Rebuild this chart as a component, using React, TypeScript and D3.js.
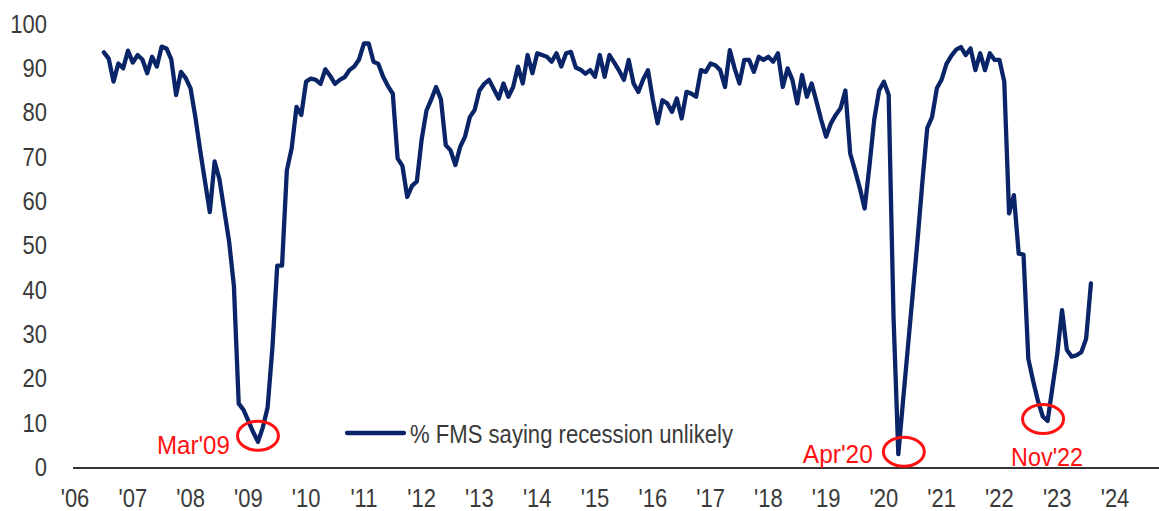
import React from "react";
import * as d3 from "d3";

// ---------- DATA ----------
const startYear = 2006;
const startMonth = 7; // first observation: July 2006, monthly thereafter
const seriesName = "% FMS saying recession unlikely";
const recessionUnlikely: number[] = [
  // 2006 (Jul-Dec)
  93.6, 92.2, 87, 91.1, 90, 94,
  // 2007
  91.3, 93, 92, 88.9, 92.6, 90.4, 94.9, 94.5, 92, 84, 89.2, 87.8,
  // 2008
  85.5, 79, 71.5, 64.5, 57.6, 69, 65, 58, 51, 41, 14.4, 13,
  // 2009
  10.5, 8, 5.8, 9, 13.5, 27, 45.5, 45.5, 67, 72, 81.3, 79.5,
  // 2010
  87, 87.7, 87.4, 86.5, 89.8, 88.3, 86.5, 87.4, 88, 89.6, 90.4, 92,
  // 2011
  95.6, 95.6, 91.5, 91, 88.1, 86, 84.3, 69.7, 68, 61, 63.5, 64.5,
  // 2012
  74, 80.5, 83, 85.8, 83, 72.7, 71.5, 68.2, 72.3, 74.6, 79, 80.6,
  // 2013
  85, 86.5, 87.4, 85.3, 83.2, 86.6, 83.6, 85.8, 90.4, 86.6, 93, 88.9,
  // 2014
  93.4, 93, 92.6, 91.5, 93.4, 90.4, 93.4, 93.7, 90.2, 89.7, 88.8, 89.6,
  // 2015
  88.1, 93, 88.1, 93, 91.3, 89.5, 87.4, 91.9, 86.6, 84.7, 87.5, 89.6,
  // 2016
  83, 77.6, 82.8, 82.1, 80.2, 83.2, 78.7, 84.7, 84.3, 83.6, 89.6, 89.2,
  // 2017
  91.1, 90.7, 89.6, 85.8, 94.1, 90, 86.6, 91.9, 91.9, 89.2, 92.6, 91.9,
  // 2018
  92.6, 91.5, 93.4, 85.8, 90, 87.4, 82.1, 88.5, 83.6, 86.6, 82.5, 78.3,
  // 2019
  74.6, 77.6, 79.5, 81, 85, 70.8, 67, 63, 58.4, 68, 78.5, 85,
  // 2020
  87, 84, 34, 3, 15.3, 27.3, 39.3, 51.4, 64.4, 76.5, 79, 85.5,
  // 2021
  87.5, 91, 92.8, 94.2, 94.8, 93, 94.5, 89.6, 93.4, 89.6, 93.4, 91.9,
  // 2022
  91.9, 87, 57.3, 61.4, 48.2, 48, 24.5, 19.5, 15, 11.5, 10.5, 18,
  // 2023 (Jan-Aug)
  25.5, 35.5, 26.5, 25, 25.3, 26, 29, 41.5,
];

const yTicks = [0, 10, 20, 30, 40, 50, 60, 70, 80, 90, 100];
const xTickYears = [2006, 2007, 2008, 2009, 2010, 2011, 2012, 2013, 2014, 2015, 2016, 2017, 2018, 2019, 2020, 2021, 2022, 2023, 2024];

const annotationLabels = ["Mar'09", "Apr'20", "Nov'22"];
const annotationYears = [2009, 2020, 2022];
const annotationMonths = [3, 4, 11];

// ---------- LAYOUT / STYLE ----------
const W = 1159;
const H = 511;
const NAVY = "#0a2468";
const RED = "#ff1111";
const TEXT = "#3a3a3a";
const FONT = "'Liberation Sans', Arial, sans-serif";

// per-annotation placement (offsets from the data point, in px)
const annLayout = [
  { ecx: 0, ecy: -6, textX: -28, textY: 18, anchor: "end", len: 73 },
  { ecx: 5.5, ecy: -2.5, textX: -31, textY: 11, anchor: "end", len: 70 },
  { ecx: -4.5, ecy: -2, textX: 4, textY: 47, anchor: "middle", len: 72 },
];

export default function App() {
  const x = d3.scaleLinear().domain([2006, 2024]).range([75, 1115]);
  const y = d3.scaleLinear().domain([0, 100]).range([467.5, 24]);

  const points = recessionUnlikely.map((v, k) => ({
    t: startYear + (startMonth - 1 + k) / 12,
    v,
  }));
  const line = d3
    .line<{ t: number; v: number }>()
    .x((d) => x(d.t))
    .y((d) => y(d.v));

  const valueAt = (yr: number, m: number) => {
    const idx = (yr - startYear) * 12 + (m - startMonth);
    return recessionUnlikely[idx];
  };

  return (
    <svg
      width={W}
      height={H}
      style={{ position: "absolute", left: 0, top: 0, background: "#fff" }}
      fontFamily={FONT}
    >
      <rect x={0} y={0} width={W} height={H} fill="#fff" />

      {/* y tick labels */}
      {yTicks.map((t) => (
        <text
          key={"y" + t}
          transform={`translate(47,${y(t) + 8.5}) scale(0.88,1)`}
          textAnchor="end"
          fontSize={25}
          fill={TEXT}
        >
          {t}
        </text>
      ))}

      {/* x axis line */}
      <line x1={73} x2={W} y1={468} y2={468} stroke="#333" strokeWidth={2} />

      {/* x tick labels */}
      {xTickYears.map((yr) => (
        <text
          key={"x" + yr}
          transform={`translate(${x(yr)},507) scale(0.88,1)`}
          textAnchor="middle"
          fontSize={25}
          fill={TEXT}
        >
          {"'" + String(yr).slice(2)}
        </text>
      ))}

      {/* series line */}
      <path
        d={line(points) || ""}
        fill="none"
        stroke={NAVY}
        strokeWidth={4.3}
        strokeLinejoin="round"
        strokeLinecap="round"
      />

      {/* legend */}
      <line x1={347} x2={404} y1={433} y2={433} stroke={NAVY} strokeWidth={4.3} strokeLinecap="round" />
      <text
        x={410}
        y={443}
        fontSize={26}
        fill={TEXT}
        textLength={323}
        lengthAdjust="spacingAndGlyphs"
      >
        {seriesName}
      </text>

      {/* annotations */}
      {annotationLabels.map((lab, k) => {
        const yr = annotationYears[k];
        const m = annotationMonths[k];
        const px = x(yr + (m - 1) / 12);
        const py = y(valueAt(yr, m));
        const L = annLayout[k];
        const cx = px + L.ecx;
        const cy = py + L.ecy;
        const tx = cx + L.textX;
        const ty = cy + L.textY;
        const x0 = L.anchor === "end" ? tx - L.len : tx - L.len / 2;
        return (
          <g key={lab}>
            <ellipse cx={cx} cy={cy} rx={20.5} ry={14.5} fill="none" stroke={RED} strokeWidth={3} />
            <text
              x={x0}
              y={ty}
              fontSize={26}
              fill={RED}
              textLength={L.len}
              lengthAdjust="spacingAndGlyphs"
            >
              {lab}
            </text>
          </g>
        );
      })}
    </svg>
  );
}
